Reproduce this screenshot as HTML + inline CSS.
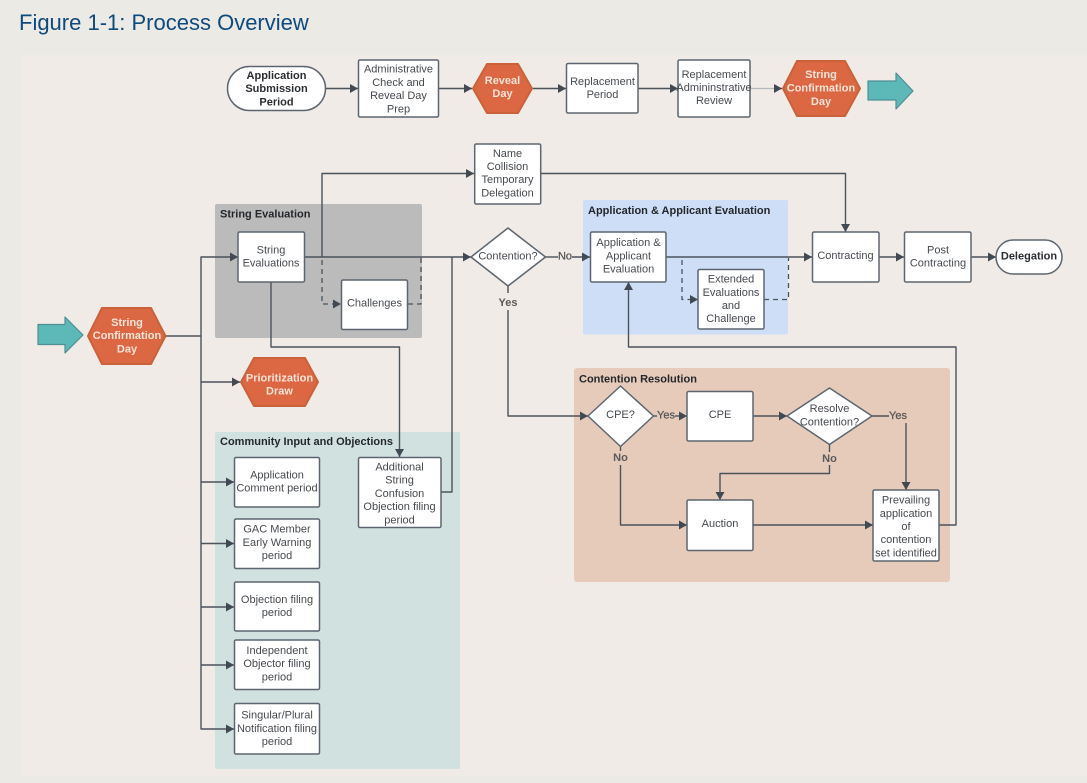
<!DOCTYPE html>
<html><head><meta charset="utf-8">
<style>
html,body{margin:0;padding:0;width:1087px;height:783px;overflow:hidden;background:#ebeae5}
svg{display:block;filter:blur(.35px)}
text{font-family:"Liberation Sans",sans-serif;font-size:11px;fill:#464a4f;text-anchor:middle}
.t{font-size:22px;fill:#0e4a7c;text-anchor:start}
.h{font-weight:bold;fill:#23272b;text-anchor:start}
.b{font-weight:bold;fill:#2a2d31}
.w{font-weight:bold;fill:#fbe3d8}
.l{font-weight:bold;fill:#5a5a5a}
.m{fill:#555;stroke:#555;stroke-width:.25}
.box{fill:#fff;stroke:#5d6670;stroke-width:1.5;stroke-linejoin:round}
.hex{fill:#dc6843;stroke:#c9623a;stroke-width:2;stroke-linejoin:round}
.teal{fill:#5db8b8;stroke:#4d8f94;stroke-width:1.2;stroke-linejoin:round}
.c{fill:none;stroke:#4b535b;stroke-width:1.4;stroke-linejoin:round}
.d{fill:none;stroke:#4b535b;stroke-width:1.3;stroke-dasharray:5 4;stroke-linejoin:round}
</style></head><body>
<svg width="1087" height="783" viewBox="0 0 1087 783" xmlns="http://www.w3.org/2000/svg">
<defs>
<marker id="a" markerUnits="userSpaceOnUse" markerWidth="9" markerHeight="10" refX="8" refY="5" orient="auto"><path d="M0,.5 L8,5 L0,9.500 Z" fill="#414a52"/></marker>
</defs>
<rect width="1087" height="783" fill="#ebeae5"/>
<rect x="21" y="55" width="1066" height="721" fill="#f0ebe6"/>
<text class="t" x="19" y="30">Figure 1-1: Process Overview</text>

<rect x="215" y="204" width="207" height="134" rx="2" fill="#bbbbbb"/>
<rect x="215" y="432" width="245" height="337" rx="2" fill="#d1e1e0"/>
<rect x="583" y="200" width="205" height="134.5" rx="2" fill="#cfdef7"/>
<rect x="574" y="368" width="376" height="214" rx="3" fill="#e6cbbb"/>
<text class="h" x="220" y="217.500">String Evaluation</text>
<text class="h" x="220" y="445">Community Input and Objections</text>
<text class="h" x="588" y="214">Application &amp; Applicant Evaluation</text>
<text class="h" x="579" y="382.500">Contention Resolution</text>

<!-- connectors -->
<path class="c" d="M326,88.500H358" marker-end="url(#a)"/>
<path class="c" d="M439,88.500H472" marker-end="url(#a)"/>
<path class="c" d="M533,88.500H566" marker-end="url(#a)"/>
<path class="c" d="M638,88.500H678" marker-end="url(#a)"/>
<path d="M750,88.500H775" fill="none" stroke="#b5b9ba" stroke-width="1.2"/>
<path class="c" d="M775,88.500H782" marker-end="url(#a)"/>
<path class="c" d="M166,336H201V257H238" marker-end="url(#a)"/>
<path class="c" d="M201,336V729H234" marker-end="url(#a)"/>
<path class="c" d="M201,382H240" marker-end="url(#a)"/>
<path class="c" d="M201,482H234" marker-end="url(#a)"/>
<path class="c" d="M201,543.500H234" marker-end="url(#a)"/>
<path class="c" d="M201,607H234" marker-end="url(#a)"/>
<path class="c" d="M201,665H234" marker-end="url(#a)"/>
<path class="c" d="M304,257H471" marker-end="url(#a)"/>
<path class="c" d="M322,257V173.500H474" marker-end="url(#a)"/>
<path class="c" d="M541,173.500H845.500V232" marker-end="url(#a)"/>
<path class="d" d="M322,260V304H341" marker-end="url(#a)"/>
<path class="d" d="M408,304H421V258"/>
<path class="c" d="M271,282V347H399.500V457" marker-end="url(#a)"/>
<path class="c" d="M441,492H452V257"/>
<path class="c" d="M545,257H558"/><path class="c" d="M572,257H590" marker-end="url(#a)"/>
<path class="c" d="M666,257H812" marker-end="url(#a)"/>
<path class="d" d="M682,260V299.500H698" marker-end="url(#a)"/>
<path class="d" d="M764,299.500H788.500V258"/>
<path class="c" d="M879,257H904" marker-end="url(#a)"/>
<path class="c" d="M971,257H996" marker-end="url(#a)"/>
<path class="c" d="M508,286V293"/>
<path class="c" d="M508,310V416H588" marker-end="url(#a)"/>
<path class="c" d="M653,416H657"/><path class="c" d="M675,416H687" marker-end="url(#a)"/>
<path class="c" d="M753,416H787" marker-end="url(#a)"/>
<path class="c" d="M872,416H889"/>
<path class="c" d="M906,423V490" marker-end="url(#a)"/>
<path class="c" d="M620.500,446V451"/>
<path class="c" d="M620.500,465V525H687" marker-end="url(#a)"/>
<path class="c" d="M829.500,444V452"/>
<path class="c" d="M829.500,465V473.500H720V500" marker-end="url(#a)"/>
<path class="c" d="M753,525H873" marker-end="url(#a)"/>
<path class="c" d="M939,525H956V347H628.500V282" marker-end="url(#a)"/>

<!-- shapes -->
<rect class="box" x="227.500" y="66.500" width="98" height="44" rx="22"/>
<rect class="box" x="358.500" y="60" width="80" height="57" rx="1.500"/>
<polygon class="hex" points="473,88.500 487,64 518,64 532,88.500 518,113 487,113"/>
<rect class="box" x="566.500" y="63.500" width="71.500" height="49.500" rx="1.500"/>
<rect class="box" x="678" y="60" width="72" height="57" rx="1.500"/>
<polygon class="hex" points="783,88.500 797,61 845,61 860,88.500 845,116 797,116"/>
<polygon class="teal" points="868,81 896,81 896,73 913,91 896,109 896,100 868,100"/>
<rect class="box" x="474.700" y="144" width="66" height="60" rx="1.500"/>
<rect class="box" x="238" y="232" width="66.500" height="50" rx="1.500"/>
<rect class="box" x="341.500" y="280" width="66" height="49.500" rx="1.500"/>
<polygon class="box" points="508,228 545.500,257 508,286 471,257"/>
<polygon class="teal" points="38,324.500 65,324.500 65,317 83,335 65,353 65,344.500 38,344.500"/>
<polygon class="hex" points="88,336 102,308 151,308 165.500,336 151,364 102,364"/>
<polygon class="hex" points="241,382 254,358 305,358 318,382 305,406 254,406"/>
<rect class="box" x="234.500" y="457.500" width="85" height="49.500" rx="1.500"/>
<rect class="box" x="234.500" y="519" width="85" height="49.500" rx="1.500"/>
<rect class="box" x="234.500" y="582" width="85" height="49" rx="1.500"/>
<rect class="box" x="234.500" y="640" width="85" height="49.500" rx="1.500"/>
<rect class="box" x="234.500" y="703.500" width="85" height="50.500" rx="1.500"/>
<rect class="box" x="358.500" y="457.500" width="82.500" height="70" rx="1.500"/>
<rect class="box" x="590.500" y="232" width="75.500" height="50" rx="1.500"/>
<rect class="box" x="698" y="269.500" width="66" height="59.500" rx="1.500"/>
<rect class="box" x="812.500" y="232" width="66.500" height="50" rx="1.500"/>
<rect class="box" x="904.500" y="232" width="66.500" height="50" rx="1.500"/>
<rect class="box" x="996" y="240" width="66" height="34" rx="17"/>
<polygon class="box" points="620.500,386 653.500,416 620.500,446.500 588,416"/>
<rect class="box" x="687" y="391.500" width="66" height="49.500" rx="1.500"/>
<polygon class="box" points="829.500,388 872,416 829.500,444.500 787,416"/>
<rect class="box" x="687" y="500" width="66" height="50.500" rx="1.500"/>
<rect class="box" x="873" y="490" width="66" height="71" rx="1.500"/>

<!-- labels -->
<text class="b" x="276.500" y="79">Application</text><text class="b" x="276.500" y="92">Submission</text><text class="b" x="276.500" y="105.500">Period</text>
<text x="398.500" y="72.500">Administrative</text><text x="398.500" y="86">Check and</text><text x="398.500" y="99">Reveal Day</text><text x="398.500" y="112.500">Prep</text>
<text class="w" x="502.500" y="84">Reveal</text><text class="w" x="502.500" y="97">Day</text>
<text x="602.500" y="85">Replacement</text><text x="602.500" y="98">Period</text>
<text x="714" y="78">Replacement</text><text x="714" y="91">Admininstrative</text><text x="714" y="104">Review</text>
<text class="w" x="821" y="78">String</text><text class="w" x="821" y="91.500">Confirmation</text><text class="w" x="821" y="105">Day</text>
<text x="507.500" y="157">Name</text><text x="507.500" y="170">Collision</text><text x="507.500" y="183">Temporary</text><text x="507.500" y="196.500">Delegation</text>
<text x="271" y="253.500">String</text><text x="271" y="266.500">Evaluations</text>
<text x="374.500" y="306.500">Challenges</text>
<text x="508" y="259.500">Contention?</text>
<text class="l" x="508" y="306">Yes</text>
<text class="m" x="565" y="259.500">No</text>
<text class="w" x="127" y="326">String</text><text class="w" x="127" y="339">Confirmation</text><text class="w" x="127" y="352.500">Day</text>
<text class="w" x="279.500" y="381.500">Prioritization</text><text class="w" x="279.500" y="394.500">Draw</text>
<text x="277" y="478.500">Application</text><text x="277" y="491.500">Comment period</text>
<text x="277" y="532.500">GAC Member</text><text x="277" y="546">Early Warning</text><text x="277" y="559">period</text>
<text x="277" y="603">Objection filing</text><text x="277" y="616">period</text>
<text x="277" y="654">Independent</text><text x="277" y="667">Objector filing</text><text x="277" y="680.500">period</text>
<text x="277" y="718.500">Singular/Plural</text><text x="277" y="732">Notification filing</text><text x="277" y="745">period</text>
<text x="399.500" y="470.500">Additional</text><text x="399.500" y="483.500">String</text><text x="399.500" y="497">Confusion</text><text x="399.500" y="510">Objection filing</text><text x="399.500" y="523.500">period</text>
<text x="628.500" y="246">Application &amp;</text><text x="628.500" y="259.500">Applicant</text><text x="628.500" y="272.500">Evaluation</text>
<text x="731" y="282.500">Extended</text><text x="731" y="296">Evaluations</text><text x="731" y="309">and</text><text x="731" y="322">Challenge</text>
<text x="845.500" y="259">Contracting</text>
<text x="938" y="253.500">Post</text><text x="938" y="266.500">Contracting</text>
<text class="b" x="1029" y="259.500">Delegation</text>
<text x="620.500" y="418">CPE?</text>
<text class="m" x="666" y="418.500">Yes</text>
<text x="720" y="418">CPE</text>
<text x="829.500" y="412">Resolve</text><text x="829.500" y="425.500">Contention?</text>
<text class="m" x="898" y="419">Yes</text>
<text class="l" x="620.500" y="461">No</text>
<text class="l" x="829.500" y="462">No</text>
<text x="720" y="527">Auction</text>
<text x="906" y="503.500">Prevailing</text><text x="906" y="517">application</text><text x="906" y="530">of</text><text x="906" y="543">contention</text><text x="906" y="556.500">set identified</text>
</svg>
</body></html>
